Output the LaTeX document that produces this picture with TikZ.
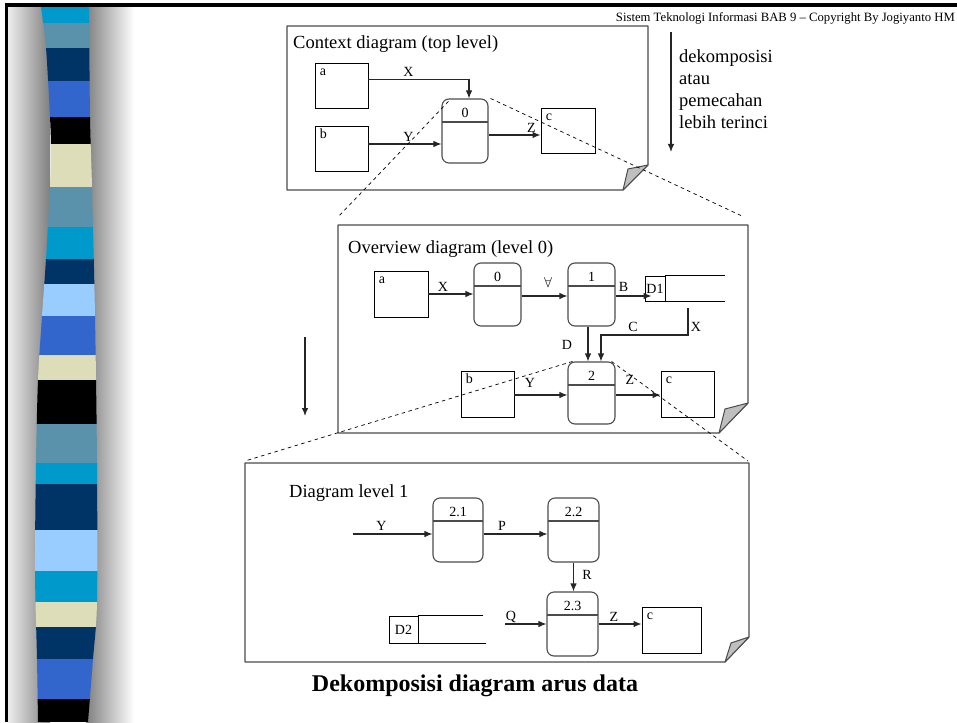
\documentclass[tikz,border=0pt]{standalone}
\usepackage{fontspec}
\setmainfont{Liberation Serif}
\usetikzlibrary{arrows.meta,calc}

\newcommand\lblfont{\fontsize{14}{16}\selectfont}
\newcommand\ttlfont{\fontsize{18.5}{21.7}\selectfont}
\newcommand\hdrfont{\fontsize{12.7}{15}\selectfont}
\newcommand\capfont{\fontsize{24}{28}\selectfont\bfseries}

\definecolor{stCyan}{HTML}{0099CC}
\definecolor{stSteel}{HTML}{5A91AB}
\definecolor{stNavy}{HTML}{003366}
\definecolor{stBlue}{HTML}{3366CC}
\definecolor{stBeige}{HTML}{DDDDB9}
\definecolor{stLight}{HTML}{99CCFF}

\begin{document}
\begin{tikzpicture}[x=1pt,y=-1pt,
  ent/.style={draw=black, line width=0.9pt, minimum width=53, minimum height=45, inner sep=0pt,
    label={[anchor=base west, inner sep=0pt, xshift=5pt, yshift=-13pt, font=\lblfont]north west:#1}},
  proc/.style={draw=black!70, line width=1.1pt, rounded corners=7pt, minimum width=47, minimum height=64, inner sep=0pt,
    label={[anchor=base, inner sep=0pt, yshift=-19pt, font=\lblfont]north:#1},
    path picture={\draw[draw=black!70, line width=1.1pt]
      ([yshift=-23pt]path picture bounding box.north west) -- ([yshift=-23pt]path picture bounding box.north east);}},
  storecell/.style={draw=black, line width=0.9pt, minimum width=20, minimum height=25, inner sep=0pt, font=\lblfont},
  storeln/.style={draw=black, line width=0.9pt},
  flow/.style={draw=black!85, line width=1.1pt, -{Latex[length=8pt,width=6.5pt]}},
  zoomln/.style={draw=black, line width=0.7pt, dash pattern=on 3.5pt off 3.5pt},
  framepath/.style={draw=black!70, line width=1.1pt, line join=round},
  foldstyle/.style={fill=black!25, draw=black!70, line width=1pt, line join=round},
  lbltxt/.style={font=\lblfont, inner sep=0pt},
  ttltxt/.style={font=\ttlfont, inner sep=0pt, anchor=base west}
]
\useasboundingbox (0,0) rectangle (957,722);
\fill[white] (0,0) rectangle (957,722);

% ---- slide decoration: shaded ribbon on the left ----
\shade[left color=black!6, middle color=black!22, right color=black!50] (7,7) rectangle (50,722);
\shade[left color=black!50, middle color=black!14, right color=white] (86,7) rectangle (134,722);
\begin{scope}
  \clip plot[smooth] coordinates {(41,7) (46,48) (50,117) (51,150) (50,187) (46,259) (42,316) (38,380) (36,463) (35,571) (37,659) (38,722)}
    -- plot[smooth] coordinates {(88,722) (93,659) (97,602) (97,463) (95,316) (92,187) (90,117) (89,7)} -- cycle;
  \fill[stCyan]  (30,7)   rectangle (100,23);
  \fill[stSteel] (30,23)  rectangle (100,48);
  \fill[stNavy]  (30,48)  rectangle (100,81);
  \fill[stBlue]  (30,81)  rectangle (100,117);
  \fill[black]   (30,117) rectangle (100,144);
  \fill[stBeige] (30,144) rectangle (100,187);
  \fill[stSteel] (30,187) rectangle (100,227);
  \fill[stCyan]  (30,227) rectangle (100,259);
  \fill[stNavy]  (30,259) rectangle (100,284);
  \fill[stLight] (30,284) rectangle (100,316);
  \fill[stBlue]  (30,316) rectangle (100,355);
  \fill[stBeige] (30,355) rectangle (100,380);
  \fill[black]   (30,380) rectangle (100,424);
  \fill[stSteel] (30,424) rectangle (100,463);
  \fill[stCyan]  (30,463) rectangle (100,484);
  \fill[stNavy]  (30,484) rectangle (100,530);
  \fill[stLight] (30,530) rectangle (100,571);
  \fill[stCyan]  (30,571) rectangle (100,602);
  \fill[stBeige] (30,602) rectangle (100,627);
  \fill[stNavy]  (30,627) rectangle (100,659);
  \fill[stBlue]  (30,659) rectangle (100,699);
  \fill[black]   (30,699) rectangle (100,722);
\end{scope}
\fill[black] (5,3) rectangle (957,7.5);
\fill[black] (5,3) rectangle (7.5,722);

\node[font=\hdrfont, anchor=base east, inner sep=0pt] (hdr) at (955,22)
  {Sistem Teknologi Informasi BAB 9 – Copyright By Jogiyanto HM};

% ---- context diagram ----
\draw[framepath] (287,26) -- (648,26) -- (648,165) -- (623,190) -- (287,190) -- cycle;
\draw[foldstyle] (623,190) -- (628,169) -- (648,165) -- cycle;
\node[ttltxt] (ttlA) at (293,48.5) {Context diagram (top level)};

\node[ent=a] (ta) at (341.5,85.5) {};
\node[ent=b] (tb) at (341.5,148.5) {};
\node[proc=0, minimum width=46] (t0) at (465,131) {};
\node[ent=c, minimum width=54] (tc) at (568,130.5) {};

\draw[flow] ($(ta.north east)+(0,17)$) -| ($(t0.north)+(4,0)$);
\draw[flow] (tb.east) ++(0,-4.5) coordinate (tbo) -- (tbo -| t0.west);
\draw[flow] (t0.east) ++(0,4) coordinate (t0o) -- (t0o -| tc.west);
\node[lbltxt] (lx1) at (408.5,72) {X};
\node[lbltxt] (ly1) at (408.5,137) {Y};
\node[lbltxt] (lz1) at (531.5,128) {Z};

% decomposition note
\coordinate (dkS) at (671,32);
\coordinate (dkE) at (671,152);
\draw[flow] (dkS) -- (dkE);
\node[ttltxt] (dk1) at (679,63) {dekomposisi};
\node[ttltxt] (dk2) at (679,84.7) {atau};
\node[ttltxt] (dk3) at (679,106.4) {pemecahan};
\node[ttltxt] (dk4) at (679,128.1) {lebih terinci};

% ---- overview diagram ----
\draw[framepath] (338,225) -- (748,225) -- (748,403) -- (719,433) -- (338,433) -- cycle;
\draw[foldstyle] (719,433) -- (725,409) -- (748,403) -- cycle;
\node[ttltxt] (ttlB) at (348,253) {Overview diagram (level 0)};

\node[ent=a, minimum width=54, minimum height=46] (ma) at (401,294) {};
\node[proc=0, minimum height=63] (m0) at (497.5,294.5) {};
\node[proc=1, minimum height=63] (m1) at (591.5,294.5) {};
\node[storecell] (d1) at (655,288.5) {D1};
\draw[storeln] (d1.north east) -- ++(60,0);
\draw[storeln] (d1.south east) -- ++(60,0);
\node[proc=2, minimum height=62] (m2) at (591.5,393) {};
\node[ent=b, minimum height=46] (mb) at (487.5,394) {};
\node[ent=c, minimum height=46] (mc) at (687.5,394) {};
\coordinate (xin) at (688,308);

\draw[flow] (ma.east) -- (ma.east -| m0.west);
\draw[flow] (m0.east) ++(0,1.5) coordinate (m0o) -- (m0o -| m1.west);
\draw[flow] (m1.east) ++(0,1.5) coordinate (m1o) -- ($(m1o -| d1.west)+(7,0)$);
\draw[flow] (m1.south) ++(-3.5,0) coordinate (m1d) -- (m1d |- m2.north);
\draw[flow] (xin) -- ++(0,27) -| ($(m2.north)+(9.5,0)$);
\draw[flow] (mb.east) ++(0,1) coordinate (mbo) -- (mbo -| m2.west);
\draw[flow] (m2.east) ++(0,2) coordinate (m2o) -- (m2o -| mc.west);

\node[lbltxt] (lx2) at (443,287) {X};
\node[lbltxt] (lv2) at (548,282) {$\forall$};
\node[lbltxt] (lb2) at (623.5,287) {B};
\node[lbltxt] (ld2) at (567,345) {D};
\node[lbltxt] (lc2) at (633,327) {C};
\node[lbltxt] (lx3) at (696,327) {X};
\node[lbltxt] (ly2) at (530,383) {Y};
\node[lbltxt] (lz2) at (630,380) {Z};

\coordinate (lfS) at (305,337);
\coordinate (lfE) at (305,416);
\draw[flow] (lfS) -- (lfE);

% ---- level 1 diagram ----
\draw[framepath] (245,463) -- (749,463) -- (749,637) -- (725,662) -- (245,662) -- cycle;
\draw[foldstyle] (725,662) -- (731,643) -- (749,637) -- cycle;
\node[ttltxt] (ttlC) at (289,497) {Diagram level 1};

\node[proc=2.1, minimum width=50] (b21) at (458,530) {};
\node[proc=2.2, minimum width=51] (b22) at (573.5,530) {};
\node[proc=2.3, minimum width=51] (b23) at (572.5,624) {};
\node[storecell, minimum width=29, minimum height=27] (d2) at (403.5,629.5) {D2};
\draw[storeln] (d2.north east) -- ++(65,0);
\draw[storeln] (d2.south east) -- ++(68,0);
\node[ent=c, minimum width=59, minimum height=46] (bc) at (671.5,630) {};
\coordinate (yin) at (353,534);
\coordinate (qin) at (505,624);

\draw[flow] (yin) -- (yin -| b21.west);
\draw[flow] (b21.east) ++(0,4) coordinate (b21o) -- (b21o -| b22.west);
\draw[flow] (b22.south) -- (b22.south |- b23.north);
\draw[flow] (qin) -- (qin -| b23.west);
\draw[flow] (b23.east) -- (b23.east -| bc.west);

\node[lbltxt] (ly3) at (381.5,526) {Y};
\node[lbltxt] (lp3) at (502,526) {P};
\node[lbltxt] (lr3) at (587,575) {R};
\node[lbltxt] (lq3) at (511,617) {Q};
\node[lbltxt] (lz3) at (614,617) {Z};

% ---- zoom guides between levels ----
\coordinate (zA) at (339,216);
\coordinate (zB) at (742,216);
\coordinate (zC) at (245,461);
\coordinate (zD) at (748,461);
\draw[zoomln] ($(t0.north west)+(7,3)$) -- (zA);
\draw[zoomln] ($(t0.north east)+(2,0)$) -- (zB);
\draw[zoomln] ($(m2.north west)+(5,0)$) -- (zC);
\draw[zoomln] ($(m2.north east)+(-4,0)$) -- (zD);

\node[font=\capfont, anchor=base, inner sep=0pt] (cap) at (475,691) {Dekomposisi diagram arus data};
\end{tikzpicture}
\end{document}
